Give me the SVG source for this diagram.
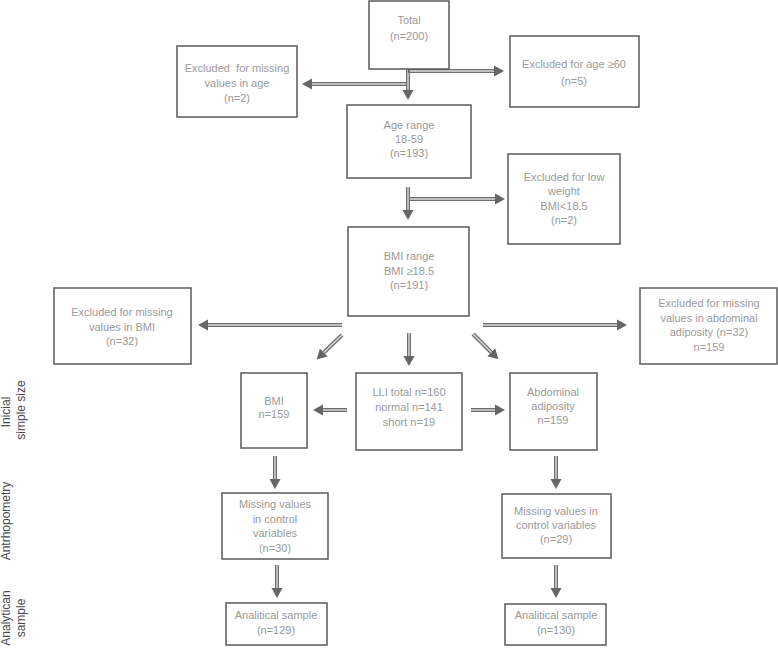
<svg xmlns="http://www.w3.org/2000/svg" width="778" height="648" viewBox="0 0 778 648">
<style>
.box{fill:#fff;stroke:#5a5a5a;stroke-width:1.5}
.t{font-family:"Liberation Sans",Arial,sans-serif;font-size:11px;fill:#9a9a9a;text-anchor:middle;white-space:pre}
.s{font-family:"Liberation Sans",Arial,sans-serif;font-size:12px;fill:#4a4a4a;text-anchor:middle}
.o{stroke:#6e6e6e;stroke-width:4;fill:none}
.i{stroke:#dcdcdc;stroke-width:1.4;fill:none}
</style>
<defs>
<marker id="ah" markerUnits="userSpaceOnUse" markerWidth="10" markerHeight="12" viewBox="0 0 9 10" refX="0" refY="5" orient="auto">
<path d="M0,0 L9,5 L0,10 Z" fill="#666"/>
</marker>
</defs>
<rect width="778" height="648" fill="#fff"/>
<g id="connectors">
<g><line class="o" x1="408" y1="68" x2="408" y2="90" marker-end="url(#ah)"/><line class="i" x1="408" y1="68" x2="408" y2="90"/></g>
<g><line class="o" x1="408" y1="71" x2="494" y2="71" marker-end="url(#ah)"/><line class="i" x1="410" y1="71" x2="494" y2="71"/></g>
<g><line class="o" x1="406" y1="84" x2="312" y2="84" marker-end="url(#ah)"/><line class="i" x1="406" y1="84" x2="312" y2="84"/></g>
<g><line class="o" x1="408" y1="187" x2="408" y2="210" marker-end="url(#ah)"/><line class="i" x1="408" y1="187" x2="408" y2="210"/></g>
<g><line class="o" x1="410" y1="199" x2="495" y2="199" marker-end="url(#ah)"/><line class="i" x1="410" y1="199" x2="495" y2="199"/></g>
<g><line class="o" x1="342" y1="325" x2="208" y2="325" marker-end="url(#ah)"/><line class="i" x1="342" y1="325" x2="208" y2="325"/></g>
<g><line class="o" x1="483" y1="325" x2="617" y2="325" marker-end="url(#ah)"/><line class="i" x1="483" y1="325" x2="617" y2="325"/></g>
<g><line class="o" x1="409" y1="333" x2="409" y2="356" marker-end="url(#ah)"/><line class="i" x1="409" y1="333" x2="409" y2="356"/></g>
<g><line class="o" x1="342" y1="335" x2="323.8" y2="352.5" marker-end="url(#ah)"/><line class="i" x1="342" y1="335" x2="323.8" y2="352.5"/></g>
<g><line class="o" x1="473" y1="334" x2="491.3" y2="352.3" marker-end="url(#ah)"/><line class="i" x1="473" y1="334" x2="491.3" y2="352.3"/></g>
<g><line class="o" x1="347" y1="410" x2="323" y2="410" marker-end="url(#ah)"/><line class="i" x1="347" y1="410" x2="323" y2="410"/></g>
<g><line class="o" x1="471" y1="410" x2="495" y2="410" marker-end="url(#ah)"/><line class="i" x1="471" y1="410" x2="495" y2="410"/></g>
<g><line class="o" x1="275" y1="456" x2="275" y2="479" marker-end="url(#ah)"/><line class="i" x1="275" y1="456" x2="275" y2="479"/></g>
<g><line class="o" x1="277" y1="565" x2="277" y2="588" marker-end="url(#ah)"/><line class="i" x1="277" y1="565" x2="277" y2="588"/></g>
<g><line class="o" x1="556" y1="456" x2="556" y2="479" marker-end="url(#ah)"/><line class="i" x1="556" y1="456" x2="556" y2="479"/></g>
<g><line class="o" x1="556" y1="565" x2="556" y2="588" marker-end="url(#ah)"/><line class="i" x1="556" y1="565" x2="556" y2="588"/></g>
</g>
<g id="total"><rect class="box" x="369" y="1" width="80" height="68"/><text class="t" x="409" y="24">Total</text><text class="t" x="409" y="40">(n=200)</text></g>
<g id="exAge"><rect class="box" x="177" y="46" width="120" height="71"/><text class="t" x="237" y="72">Excluded  for missing</text><text class="t" x="237" y="87">values in age</text><text class="t" x="237" y="102">(n=2)</text></g>
<g id="ex60"><rect class="box" x="510" y="36" width="129" height="71"/><text class="t" x="574" y="68">Excluded for age ≥60</text><text class="t" x="574" y="85">(n=5)</text></g>
<g id="ageRange"><rect class="box" x="347" y="105" width="124" height="73"/><text class="t" x="409" y="129">Age range</text><text class="t" x="409" y="143">18-59</text><text class="t" x="409" y="157">(n=193)</text></g>
<g id="lowWeight"><rect class="box" x="508" y="154" width="112" height="90"/><text class="t" x="564" y="181">Excluded for low</text><text class="t" x="564" y="195">weight</text><text class="t" x="564" y="210">BMI&lt;18.5</text><text class="t" x="564" y="224">(n=2)</text></g>
<g id="bmiRange"><rect class="box" x="348" y="227" width="121" height="89"/><text class="t" x="409" y="260">BMI range</text><text class="t" x="409" y="275">BMI ≥18.5</text><text class="t" x="409" y="289">(n=191)</text></g>
<g id="exBMI"><rect class="box" x="54" y="288" width="137" height="76"/><text class="t" x="122" y="316">Excluded for missing</text><text class="t" x="122" y="331">values in BMI</text><text class="t" x="122" y="345">(n=32)</text></g>
<g id="exAbd"><rect class="box" x="640" y="288" width="137" height="76"/><text class="t" x="709" y="307">Excluded for missing</text><text class="t" x="709" y="322">values in abdominal</text><text class="t" x="709" y="336">adiposity (n=32)</text><text class="t" x="709" y="351">n=159</text></g>
<g id="bmi"><rect class="box" x="241" y="373" width="66" height="75"/><text class="t" x="274" y="405">BMI</text><text class="t" x="274" y="418">n=159</text></g>
<g id="lli"><rect class="box" x="356" y="373" width="106" height="77"/><text class="t" x="409" y="396">LLI total n=160</text><text class="t" x="409" y="411">normal n=141</text><text class="t" x="409" y="426">short n=19</text></g>
<g id="abd"><rect class="box" x="510" y="373" width="87" height="77"/><text class="t" x="553" y="396">Abdominal</text><text class="t" x="553" y="410">adiposity</text><text class="t" x="553" y="424">n=159</text></g>
<g id="missL"><rect class="box" x="222" y="493" width="106" height="66"/><text class="t" x="275" y="508">Missing values</text><text class="t" x="275" y="523">in control</text><text class="t" x="275" y="537">variables</text><text class="t" x="275" y="552">(n=30)</text></g>
<g id="missR"><rect class="box" x="502" y="494" width="109" height="64"/><text class="t" x="556" y="515">Missing values in</text><text class="t" x="556" y="529">control variables</text><text class="t" x="556" y="543">(n=29)</text></g>
<g id="anaL"><rect class="box" x="226" y="603" width="101" height="42"/><text class="t" x="276" y="619">Analitical sample</text><text class="t" x="276" y="634">(n=129)</text></g>
<g id="anaR"><rect class="box" x="505" y="604" width="101" height="41"/><text class="t" x="556" y="619">Analitical sample</text><text class="t" x="556" y="634">(n=130)</text></g>
<g id="labels">
<text class="s" transform="translate(10,412) rotate(-90)">Inicial</text>
<text class="s" transform="translate(25,410) rotate(-90)">simple size</text>
<text class="s" transform="translate(10,521) rotate(-90)">Antrhopometry</text>
<text class="s" transform="translate(10,618) rotate(-90)">Analytican</text>
<text class="s" transform="translate(25,618) rotate(-90)">sample</text>
</g>
</svg>
